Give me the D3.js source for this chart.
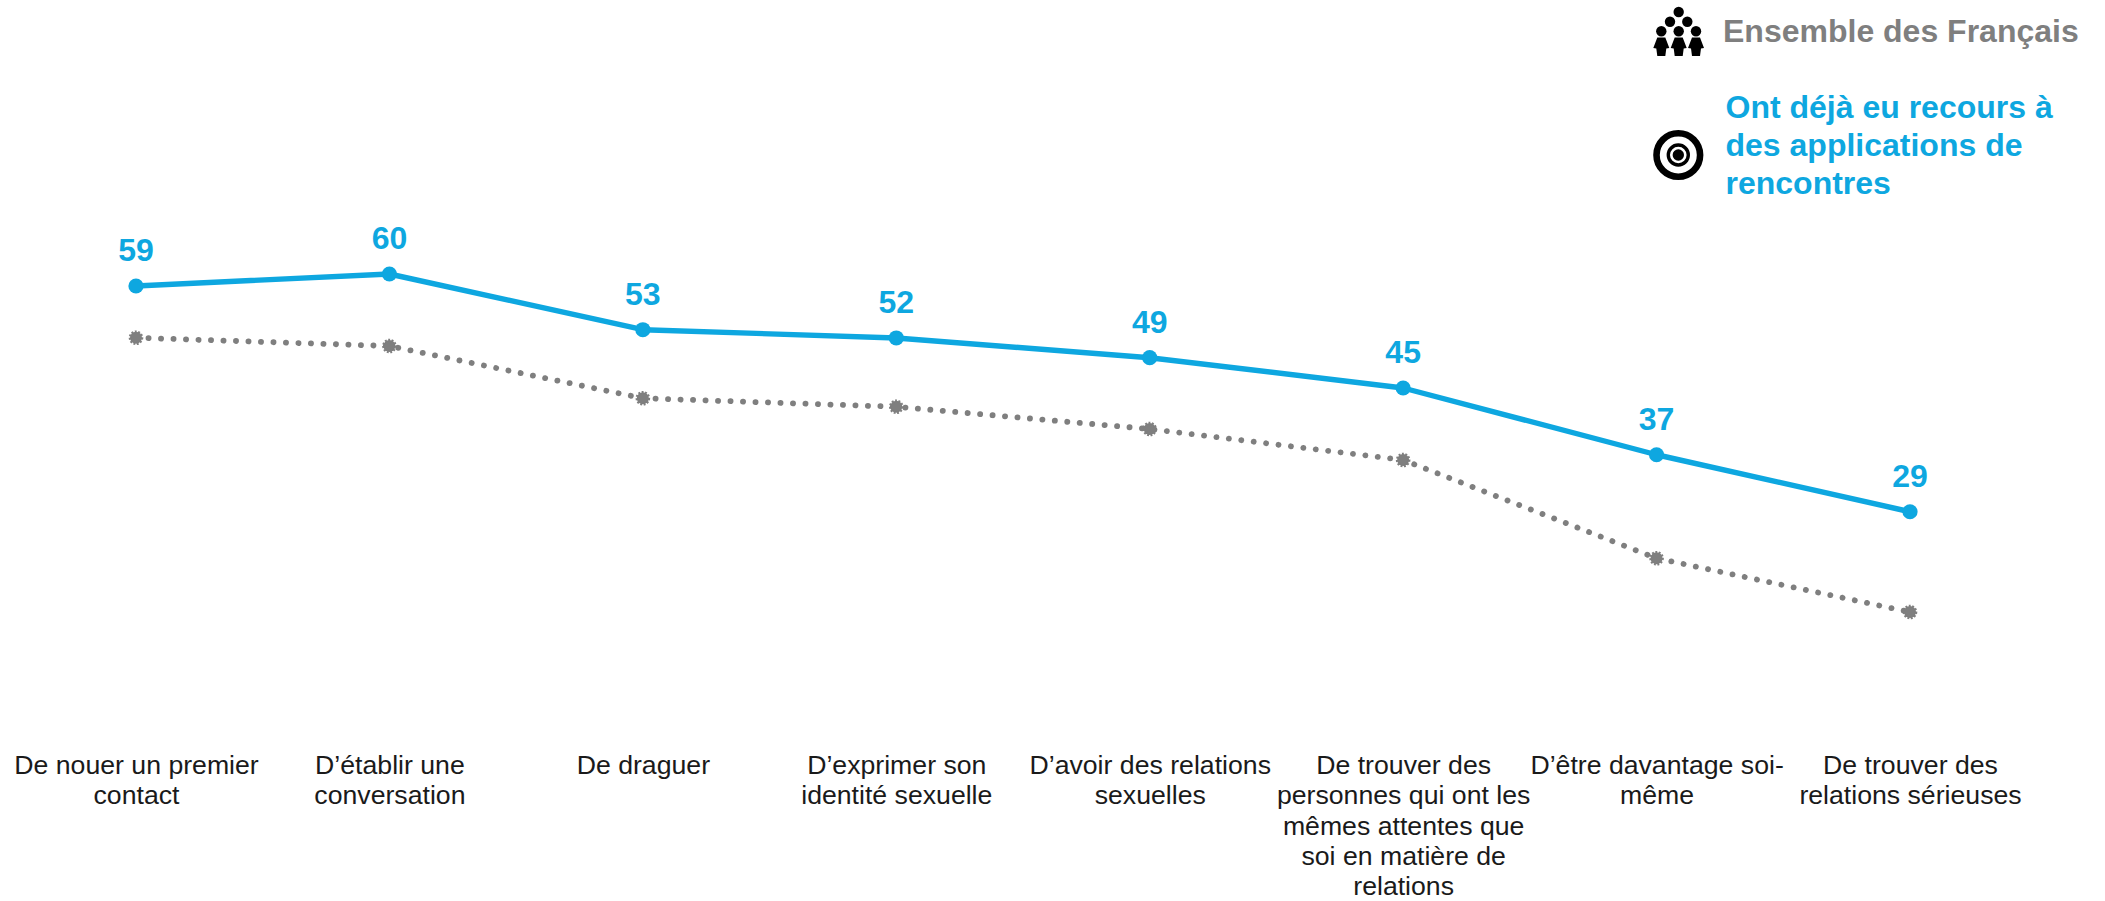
<!DOCTYPE html>
<html><head><meta charset="utf-8">
<script src="https://cdnjs.cloudflare.com/ajax/libs/d3/7.8.5/d3.min.js"></script>
<style>html,body{margin:0;padding:0;background:#fff}svg{display:block}text{font-family:"Liberation Sans",Arial,sans-serif}</style>
</head><body><svg id="c" width="2105" height="901"></svg>
<script>
const categories = [
  ["De nouer un premier","contact"],
  ["D’établir une","conversation"],
  ["De draguer"],
  ["D’exprimer son","identité sexuelle"],
  ["D’avoir des relations","sexuelles"],
  ["De trouver des","personnes qui ont les","mêmes attentes que","soi en matière de","relations"],
  ["D’être davantage soi-","même"],
  ["De trouver des","relations sérieuses"]
];
const appLabels = [59,60,53,52,49,45,37,29];
const appValues = [59,60.6,53.17,52.07,49.44,45.4,36.5,28.9];
const allValues = [52.1,51,44.03,42.9,39.93,35.8,22.7,15.53];
const legendAll = ["Ensemble des Français"];
const legendApp = ["Ont déjà eu recours à","des applications de","rencontres"];
const BLUE="#0ea7e0", GREY="#7f7f7f", INK="#1a1a1a";

const svg=d3.select("#c");
const keys=categories.map((d,i)=>i);
const x=d3.scalePoint().domain(keys).range([136,1910]);
const y=d3.scaleLinear().domain([0,59]).range([728.5,286]);
const line=v=>d3.line().x((d,i)=>x(i)).y(d=>y(d))(v);

// category axis
const axis=svg.append("g").attr("transform","translate(0,746)")
  .call(d3.axisBottom(x).tickSize(0).tickPadding(0).tickFormat(""));
axis.select(".domain").remove();
axis.selectAll(".tick text").remove();
axis.selectAll(".tick").append("text")
  .attr("text-anchor","middle").attr("font-size",26.67).attr("fill",INK)
  .each(function(i){
    d3.select(this).selectAll("tspan").data(categories[i]).join("tspan")
      .attr("x",0).attr("y",(d,k)=>27.6+k*30.45).text(d=>d);
  });

// grey series
svg.append("path").attr("d",line(allValues)).attr("fill","none").attr("stroke",GREY)
  .attr("stroke-width",5.8).attr("stroke-linecap","round").attr("stroke-dasharray","0.1 12.4");
svg.selectAll("circle.all").data(allValues).join("circle").attr("class","all")
  .attr("cx",(d,i)=>x(i)).attr("cy",d=>y(d)).attr("r",6).attr("fill",GREY)
  .attr("stroke",GREY).attr("stroke-width",2.6).attr("stroke-dasharray","1.8 1.5");

// blue series
svg.append("path").attr("d",line(appValues)).attr("fill","none").attr("stroke",BLUE)
  .attr("stroke-width",5.4).attr("stroke-linejoin","round");
svg.selectAll("circle.app").data(appValues).join("circle").attr("class","app")
  .attr("cx",(d,i)=>x(i)).attr("cy",d=>y(d)).attr("r",7.6).attr("fill",BLUE);
svg.selectAll("text.val").data(appValues).join("text").attr("class","val")
  .attr("x",(d,i)=>x(i)).attr("y",d=>y(d)-25).attr("text-anchor","middle")
  .attr("font-size",32).attr("font-weight","bold").attr("fill",BLUE)
  .text((d,i)=>appLabels[i]);

// legend
svg.selectAll("text.la").data(legendAll).join("text").attr("class","la")
  .attr("x",1723).attr("y",42).attr("font-size",32).attr("font-weight","bold").attr("fill",GREY).text(d=>d);
svg.selectAll("text.lb").data(legendApp).join("text").attr("class","lb")
  .attr("x",1725.5).attr("y",(d,i)=>118.3+i*37.8).attr("font-size",32).attr("font-weight","bold").attr("fill",BLUE).text(d=>d);

// people icon
const people=svg.append("g").attr("fill","#000");
[[1678.7,12],[1670,21.7],[1687.3,21.7],[1661.3,31.3],[1678.7,31.3],[1696,31.3]].forEach(p=>
  people.append("circle").attr("cx",p[0]).attr("cy",p[1]).attr("r",5.2));
[1661.3,1678.7,1696].forEach(cx=>
  people.append("path").attr("transform",`translate(${cx},37.5)`)
    .attr("d","M-4,0H4L8,10.5L5,11L4,18.5H-4L-5,11L-8,10.5Z"));
// target icon
const t=svg.append("g").attr("transform","translate(1678.3,155)");
t.append("circle").attr("r",21.8).attr("fill","none").attr("stroke","#000").attr("stroke-width",6.6);
t.append("circle").attr("r",10).attr("fill","none").attr("stroke","#000").attr("stroke-width",3.4);
t.append("circle").attr("r",5.7).attr("fill","#000");
</script></body></html>
